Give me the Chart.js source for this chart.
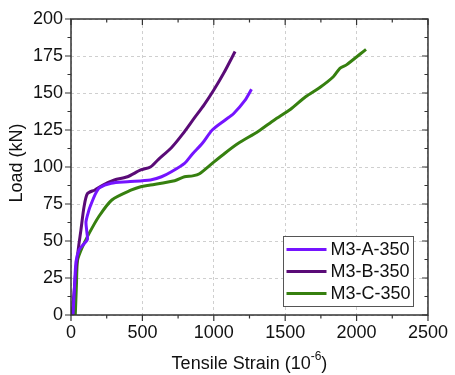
<!DOCTYPE html>
<html>
<head>
<meta charset="utf-8">
<script src="https://cdn.jsdelivr.net/npm/chart.js@4.4.1/dist/chart.umd.min.js"></script>
<style>
html, body { margin: 0; padding: 0; background: #fff; }
canvas { display: block; }
</style>
</head>
<body>
<canvas id="strainChart" width="455" height="375"></canvas>
<script>
// series (strain in 10^-6, load in kN)
const seriesNames = ["M3-A-350", "M3-B-350", "M3-C-350"];
const seriesColors = ["#7514ff", "#5a0b77", "#36800f"];

const strainA = [14, 25, 35, 57, 90, 115, 110, 105, 126, 137, 172, 200, 282, 396, 556, 634, 703, 795, 852, 920, 989, 1080, 1138, 1218, 1264];
const loadA = [0, 20, 36, 44, 48, 51, 57, 63, 71, 74, 82, 86, 89, 90, 91.2, 93.4, 96.8, 102.5, 109, 116, 125, 131.8, 136, 145, 152.5];

const strainB = [8, 23, 34, 53, 69, 91, 115, 167, 224, 304, 396, 488, 556, 611, 703, 780, 863, 932, 1000, 1069, 1149];
const loadB = [0, 17, 30, 46, 57, 73, 82, 84.5, 87.8, 91.2, 93.4, 98, 100, 105, 113, 122, 133, 142, 152, 163.3, 178];

const strainC = [30, 38, 46, 80, 126, 194, 286, 424, 488, 556, 726, 795, 852, 900, 989, 1080, 1172, 1310, 1424, 1538, 1643, 1745, 1837, 1883, 1929, 2066];
const loadC = [0, 20, 37, 46, 55, 66.4, 77.7, 84.5, 86.7, 87.8, 90.7, 93.4, 94, 95.5, 102.5, 109.5, 116, 124, 131.8, 139, 147.5, 153.9, 161, 166.7, 169, 179.5];

const xTicks = [0, 500, 1000, 1500, 2000, 2500];
const yTicks = [0, 25, 50, 75, 100, 125, 150, 175, 200];

const fontFamily = "'Liberation Sans', Arial, sans-serif";

function toPoints(xs, ys) {
    return xs.map((x, i) => ({ x: x, y: ys[i] }));
}

// frame, tick marks, titles and legend box
const framePlugin = {
    id: "frame",
    afterDraw(chart) {
        const ctx = chart.ctx;
        const area = chart.chartArea;
        const xs = chart.scales.x;
        const ys = chart.scales.y;

        ctx.save();
        ctx.strokeStyle = "#333";
        ctx.lineWidth = 1.5;
        ctx.strokeRect(area.left, area.top, area.right - area.left, area.bottom - area.top);

        ctx.lineWidth = 1.2;
        ctx.beginPath();
        for (let i = 0; i < xTicks.length; i++) {
            const px = xs.getPixelForValue(xTicks[i]);
            ctx.moveTo(px, area.bottom); ctx.lineTo(px, area.bottom + 6);
            ctx.moveTo(px, area.top); ctx.lineTo(px, area.top + 6);
            if (i < xTicks.length - 1) {
                const mx = xs.getPixelForValue((xTicks[i] + xTicks[i + 1]) / 2);
                ctx.moveTo(mx, area.bottom); ctx.lineTo(mx, area.bottom + 3.5);
                ctx.moveTo(mx, area.top); ctx.lineTo(mx, area.top + 3.5);
            }
        }
        for (let i = 0; i < yTicks.length; i++) {
            const py = ys.getPixelForValue(yTicks[i]);
            ctx.moveTo(area.left, py); ctx.lineTo(area.left - 6, py);
            ctx.moveTo(area.right, py); ctx.lineTo(area.right - 6, py);
            if (i < yTicks.length - 1) {
                const my = ys.getPixelForValue((yTicks[i] + yTicks[i + 1]) / 2);
                ctx.moveTo(area.left, my); ctx.lineTo(area.left - 3.5, my);
                ctx.moveTo(area.right, my); ctx.lineTo(area.right - 3.5, my);
            }
        }
        ctx.stroke();

        // axis titles
        ctx.fillStyle = "#111";
        ctx.font = "18px " + fontFamily;
        ctx.textBaseline = "middle";
        const main = "Tensile Strain (10";
        const sup = "-6";
        const close = ")";
        const wMain = ctx.measureText(main).width;
        const wClose = ctx.measureText(close).width;
        ctx.font = "12px " + fontFamily;
        const wSup = ctx.measureText(sup).width;
        const cx = (area.left + area.right) / 2;
        let tx = cx - (wMain + wSup + wClose) / 2;
        const ty = 364;
        ctx.font = "18px " + fontFamily;
        ctx.textAlign = "left";
        ctx.fillText(main, tx, ty);
        ctx.font = "12px " + fontFamily;
        ctx.fillText(sup, tx + wMain, ty - 7);
        ctx.font = "18px " + fontFamily;
        ctx.fillText(close, tx + wMain + wSup, ty);

        ctx.save();
        ctx.translate(17, (area.top + area.bottom) / 2 - 4);
        ctx.rotate(-Math.PI / 2);
        ctx.textAlign = "center";
        ctx.fillText("Load (kN)", 0, 0);
        ctx.restore();

        // legend
        const lx = 283.5, ly = 236.5, lw = 130, lh = 70;
        ctx.fillStyle = "#fff";
        ctx.fillRect(lx, ly, lw, lh);
        ctx.strokeStyle = "#555";
        ctx.lineWidth = 1;
        ctx.strokeRect(lx, ly, lw, lh);
        ctx.font = "18px " + fontFamily;
        ctx.textAlign = "left";
        chart.data.datasets.forEach((ds, i) => {
            const rowY = ly + 13 + i * 22;
            ctx.strokeStyle = ds.borderColor;
            ctx.lineWidth = 3;
            ctx.beginPath();
            ctx.moveTo(lx + 3, rowY);
            ctx.lineTo(lx + 43, rowY);
            ctx.stroke();
            ctx.fillStyle = "#111";
            ctx.fillText(ds.label, lx + 47, rowY + 1);
        });
        ctx.restore();
    }
};

const ctx = document.getElementById("strainChart");

new Chart(ctx, {
    type: "line",
    data: {
        datasets: [
            { label: seriesNames[0], data: toPoints(strainA, loadA), borderColor: seriesColors[0] },
            { label: seriesNames[1], data: toPoints(strainB, loadB), borderColor: seriesColors[1] },
            { label: seriesNames[2], data: toPoints(strainC, loadC), borderColor: seriesColors[2] }
        ].map(ds => Object.assign(ds, {
            borderWidth: 3,
            pointRadius: 0,
            tension: 0.25,
            fill: false
        }))
    },
    options: {
        responsive: false,
        animation: false,
        events: [],
        layout: { padding: { top: 19, right: 20, left: 0, bottom: 0 } },
        plugins: {
            legend: { display: false },
            tooltip: { enabled: false }
        },
        scales: {
            x: {
                type: "linear",
                min: 0,
                max: 2500,
                afterFit(scale) { scale.height = 60; },
                afterBuildTicks(scale) { scale.ticks = xTicks.map(v => ({ value: v })); },
                ticks: {
                    padding: 7,
                    color: "#111",
                    maxRotation: 0,
                    font: { family: fontFamily, size: 18 },
                    callback: value => String(value)
                },
                grid: { color: "#cfcfcf", lineWidth: 1, drawTicks: false },
                border: { display: false, dash: [3, 3] }
            },
            y: {
                min: 0,
                max: 200,
                afterFit(scale) { scale.width = 71; },
                afterBuildTicks(scale) { scale.ticks = yTicks.map(v => ({ value: v })); },
                ticks: {
                    padding: 8,
                    color: "#111",
                    font: { family: fontFamily, size: 18 },
                    callback: value => String(value)
                },
                grid: { color: "#cfcfcf", lineWidth: 1, drawTicks: false },
                border: { display: false, dash: [3, 3] }
            }
        }
    },
    plugins: [framePlugin]
});
</script>
</body>
</html>
